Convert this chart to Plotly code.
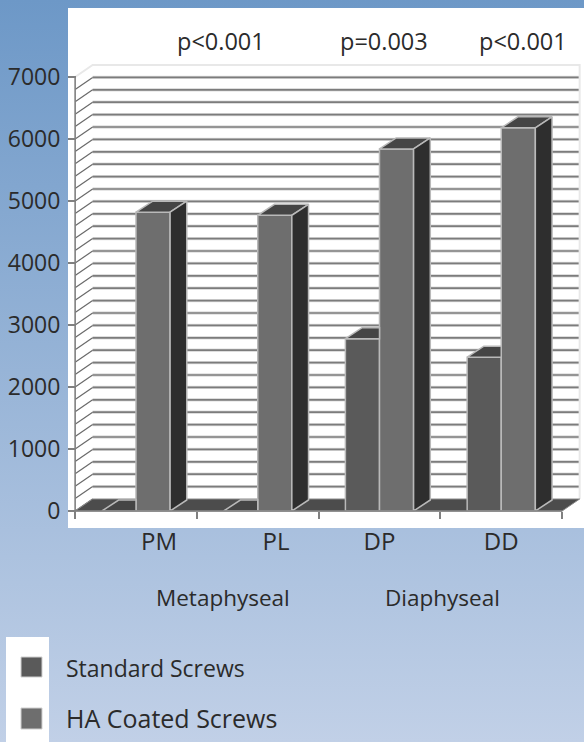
import urllib.parse
import plotly.graph_objects as go

# ---- data -------------------------------------------------------------
categories = ["PM", "PL", "DP", "DD"]
standard_screws = [0, 0, 2780, 2480]
ha_coated_screws = [4820, 4770, 5840, 6180]
y_ticks = [0, 1000, 2000, 3000, 4000, 5000, 6000, 7000]
grid_values = list(range(0, 7000, 200))
p_values = ["p<0.001", "p=0.003", "p<0.001"]
regions = ["Metaphyseal", "Diaphyseal"]
series_names = ["Standard Screws", "HA Coated Screws"]

# ---- figure geometry ---------------------------------------------------
W, H = 584, 742
CAT_PX, CAT0_PX = 121.75, 136.0       # pixels per category, centre of the first
Y0_PX, PX_PER_UNIT = 511.0, 0.062     # baseline pixel, pixels per value unit
x_range = [(0 - CAT0_PX) / CAT_PX, (W - CAT0_PX) / CAT_PX]
y_range = [(Y0_PX - H) / PX_PER_UNIT, Y0_PX / PX_PER_UNIT]
WALL_DX, WALL_DY = 17.5 / CAT_PX, 12 / PX_PER_UNIT
BAR_DX, BAR_DY = 16.7 / CAT_PX, 11 / PX_PER_UNIT
BAR_W = 0.28
label_shift = [0.19, 0.15, 0.0, 0.0]   # tick labels sit off-centre in the source

INK = "#2b2b2b"
FONT = "Open Sans"
C_STD, C_HA, C_TOP, C_SIDE, C_FLOOR = "#5a5a5a", "#6e6e6e", "#454545", "#2e2e2e", "#4c4c4c"
C_EDGE = "#b9b9b9"


def px(x):
    return x / W


def py(y):
    return 1 - y / H


def segs(pairs):
    xs, ys = [], []
    for (a, b), (c, d) in pairs:
        xs += [a, c, None]
        ys += [b, d, None]
    return xs, ys


fig = go.Figure()
L, R = -0.5, len(categories) - 0.5

# ---- back wall (lower subplot) -----------------------------------------
wall_pairs = [((L + WALL_DX, v + WALL_DY), (R + WALL_DX, v + WALL_DY)) for v in grid_values[1:]]
slant_pairs = [((L, v), (L + WALL_DX, v + WALL_DY)) for v in grid_values]
for width, color in [(3.4, "#dedede"), (1.7, "#7c7c7c")]:
    xs, ys = segs(wall_pairs)
    fig.add_trace(go.Scatter(x=xs, y=ys, mode="lines", line=dict(color=color, width=width),
                             hoverinfo="skip", showlegend=False))
xs, ys = segs(slant_pairs)
fig.add_trace(go.Scatter(x=xs, y=ys, mode="lines", line=dict(color="#6a6a6a", width=1.2),
                         hoverinfo="skip", showlegend=False))
top = y_ticks[-1]
fig.add_trace(go.Scatter(
    x=[L, L + WALL_DX, R + WALL_DX, R + WALL_DX], y=[top, top + WALL_DY, top + WALL_DY, WALL_DY],
    mode="lines", line=dict(color="#e8e8e8", width=2), hoverinfo="skip", showlegend=False))
fig.add_trace(go.Scatter(
    x=[L, R, R + WALL_DX, L + WALL_DX, L], y=[0, 0, WALL_DY, WALL_DY, 0],
    mode="lines", fill="toself", fillcolor=C_FLOOR, line=dict(color="#8a8a8a", width=1),
    hoverinfo="skip", showlegend=False))

# ---- bars (upper subplot) ----------------------------------------------
x_idx = list(range(len(categories)))
for name, vals, col in [(series_names[0], standard_screws, C_STD),
                        (series_names[1], ha_coated_screws, C_HA)]:
    fig.add_trace(go.Bar(x=x_idx, y=vals, name=name, xaxis="x2", yaxis="y2",
                         marker=dict(color=col, line=dict(color=C_EDGE, width=1.5)),
                         showlegend=False))


def face(xs, ys, color):
    fig.add_trace(go.Scatter(x=xs, y=ys, xaxis="x2", yaxis="y2", mode="lines", fill="toself",
                             fillcolor=color, line=dict(color=C_EDGE, width=1.5),
                             hoverinfo="skip", showlegend=False))


for c, (s, h) in enumerate(zip(standard_screws, ha_coated_screws)):
    # standard bar: only the part of the top not hidden by the neighbouring bar
    face([c - BAR_W, c, c, c - BAR_W + BAR_DX, c - BAR_W],
         [s, s, s + BAR_DY, s + BAR_DY, s], C_TOP)
    # coated bar: top and side
    face([c, c + BAR_W, c + BAR_W + BAR_DX, c + BAR_DX, c],
         [h, h, h + BAR_DY, h + BAR_DY, h], C_TOP)
    face([c + BAR_W, c + BAR_W + BAR_DX, c + BAR_W + BAR_DX, c + BAR_W, c + BAR_W],
         [0, BAR_DY, h + BAR_DY, h, 0], C_SIDE)

# front axis lines
fig.add_trace(go.Scatter(x=[L, L, R], y=[top, 0, 0], xaxis="x2", yaxis="y2", mode="lines",
                         line=dict(color="#808080", width=1.6), hoverinfo="skip", showlegend=False))

# ---- page decoration ---------------------------------------------------
svg = ("<svg xmlns='http://www.w3.org/2000/svg' width='584' height='742' preserveAspectRatio='none'>"
       "<defs><linearGradient id='g' x1='0' y1='0' x2='0' y2='1'>"
       "<stop offset='0' stop-color='#6d98c7'/><stop offset='1' stop-color='#c1d0e7'/>"
       "</linearGradient></defs><rect width='584' height='742' fill='url(#g)'/></svg>")
images = [dict(source="data:image/svg+xml," + urllib.parse.quote(svg), xref="paper", yref="paper",
               x=0, y=1, sizex=1, sizey=1, xanchor="left", yanchor="top", sizing="stretch", layer="below")]


def rect(x0, y0, x1, y1, fill, line=None):
    return dict(type="rect", xref="paper", yref="paper", x0=px(x0), x1=px(x1), y0=py(y1), y1=py(y0),
                fillcolor=fill, line=dict(color=line or fill, width=1 if line else 0), layer="below")


shapes = [rect(68, 8, W, 528, "white"),
          rect(6, 637, 49, H, "white"),
          rect(21, 657, 42, 677, C_STD, "#cfcfcf"),
          rect(21, 708, 42, 729, C_HA, "#cfcfcf")]


def label(text, x, y, anchor="center", size=21):
    return dict(text=text, xref="paper", yref="paper", x=px(x), y=py(y), xanchor=anchor, yanchor="middle",
                showarrow=False, font=dict(family=FONT, size=size, color=INK))


annotations = [label(p_values[0], 221, 41, size=23.5), label(p_values[1], 384, 41, size=23.5),
               label(p_values[2], 523, 41, size=23.5),
               label(regions[0], 223, 597, size=22.5), label(regions[1], 442, 597, size=22.5),
               label(series_names[0], 64, 668, "left", size=23), label(series_names[1], 64, 718, "left", size=25)]

hidden = dict(visible=False, showgrid=False, zeroline=False, fixedrange=True)
fig.update_layout(
    width=W, height=H, margin=dict(l=0, r=0, t=0, b=0, pad=0),
    paper_bgcolor="rgba(0,0,0,0)", plot_bgcolor="rgba(0,0,0,0)",
    barmode="group", bargap=1 - 2 * BAR_W, bargroupgap=0,
    showlegend=False, images=images, shapes=shapes, annotations=annotations,
    xaxis=dict(range=x_range, domain=[0, 1], **hidden),
    yaxis=dict(range=y_range, domain=[0, 1], **hidden),
    xaxis2=dict(range=x_range, domain=[0, 1], anchor="free", position=py(Y0_PX), showgrid=False, zeroline=False,
                tickmode="array", tickvals=[i + d for i, d in zip(x_idx, label_shift)], ticktext=categories,
                ticks="", ticklabelstandoff=14, tickangle=0, showline=False,
                tickfont=dict(family=FONT, size=24, color=INK),
                minor=dict(tickmode="array", tickvals=[i - 0.5 for i in range(len(categories) + 1)],
                           ticks="outside", ticklen=7, tickwidth=1.5, tickcolor="#808080", showgrid=False)),
    yaxis2=dict(range=y_range, domain=[0, 1], anchor="free", position=px(76), showgrid=False, zeroline=False,
                tickmode="array", tickvals=y_ticks, ticks="outside", ticklen=8, tickwidth=1.5, tickcolor="#808080",
                ticklabelstandoff=3, showline=False,
                tickfont=dict(family=FONT, size=23, color=INK)),
    font=dict(family=FONT, color=INK),
)

fig.write_html("out.html", config=dict(displayModeBar=False, responsive=False),
               post_script="document.body.style.margin='0';document.body.style.overflow='hidden';")
